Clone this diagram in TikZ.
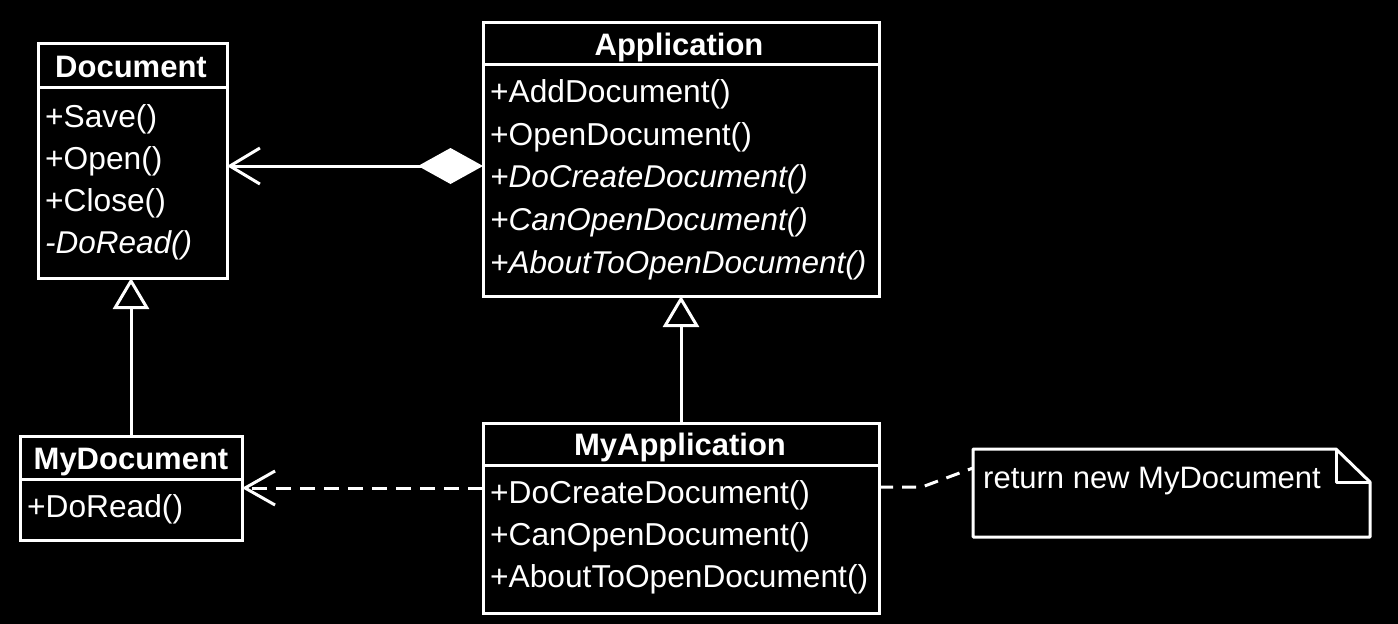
\documentclass[tikz,border=0pt]{standalone}
\usepackage{fontspec}
\setmainfont{Liberation Sans}
\usetikzlibrary{arrows.meta,calc}
\begin{document}
\begin{tikzpicture}[x=1pt,y=-1pt,
  every node/.style={text=white,font=\fontsize{31.7}{37}\selectfont},
  cls/.style={draw=white,line width=3pt,rectangle,anchor=north west,inner sep=0pt,outer sep=0pt},
  mem/.style={anchor=base west,inner sep=0pt},
  imem/.style={anchor=base west,inner sep=0pt,font=\fontsize{31.5}{37}\selectfont\itshape},
  ttl/.style={anchor=base,inner sep=0pt,font=\fontsize{31}{37}\selectfont\bfseries},
  notetext/.style={anchor=base west,inner sep=0pt,font=\fontsize{31}{37}\selectfont},
  conn/.style={draw=white,line width=3pt},
  sep/.style={draw=white,line width=3pt},
  dep/.style={draw=white,line width=3pt,dash pattern=on 15pt off 9pt}]
\fill[black] (0,0) rectangle (1398,624);
% Document
\node[cls,minimum width=189pt,minimum height=235pt] (doc) at (38,43) {};
\draw[sep] ([yshift=-44pt]doc.north west) -- ([yshift=-44pt]doc.north east);
\node[ttl] (doct) at (131,77) {Document};
\node[mem] (docm1) at (45,127) {+Save()};
\node[mem] (docm2) at (45,169) {+Open()};
\node[mem] (docm3) at (45,211) {+Close()};
\node[imem] (docm4) at (45,253) {-DoRead()};
% Application
\node[cls,minimum width=396pt,minimum height=274pt] (app) at (483,22) {};
\draw[sep] ([yshift=-42pt]app.north west) -- ([yshift=-42pt]app.north east);
\node[ttl] (appt) at (679,55) {Application};
\node[mem] (appm1) at (490,102) {+AddDocument()};
\node[mem] (appm2) at (490,145) {+OpenDocument()};
\node[imem] (appm3) at (490,187) {+DoCreateDocument()};
\node[imem] (appm4) at (490,230) {+CanOpenDocument()};
\node[imem] (appm5) at (490,273) {+AboutToOpenDocument()};
% MyDocument
\node[cls,minimum width=222pt,minimum height=104pt] (mydoc) at (20,436) {};
\draw[sep] ([yshift=-43pt]mydoc.north west) -- ([yshift=-43pt]mydoc.north east);
\node[ttl] (mydoct) at (131,469) {MyDocument};
\node[mem] (mydocm1) at (27,517) {+DoRead()};
% MyApplication
\node[cls,minimum width=396pt,minimum height=190pt] (myapp) at (483,423) {};
\draw[sep] ([yshift=-42pt]myapp.north west) -- ([yshift=-42pt]myapp.north east);
\node[ttl] (myappt) at (680,455) {MyApplication};
\node[mem] (myappm1) at (490,503) {+DoCreateDocument()};
\node[mem] (myappm2) at (490,545) {+CanOpenDocument()};
\node[mem] (myappm3) at (490,587) {+AboutToOpenDocument()};
% Note
\node[inner sep=0pt,outer sep=0pt,minimum width=397pt,minimum height=88pt,anchor=north west] (note) at (973,449) {};
\draw[conn,line join=round] (note.north west) -- ([xshift=-34pt]note.north east) -- ([yshift=-33pt]note.north east) -- (note.south east) -- (note.south west) -- cycle;
\draw[conn,line join=round] ([xshift=-34pt]note.north east) -- ++(0,33) -- ([yshift=-33pt]note.north east);
\node[notetext] (notet) at (983,488) {return new MyDocument};
% Connectors
\draw[conn,{Diamond[length=65pt,width=36pt,fill=white]}-{Straight Barb[length=30pt,width=36pt]}] ([yshift=-7pt]app.west) -- ([yshift=-7pt]app.west -| doc.east);
\draw[conn,-{Triangle[length=31pt,width=36pt,fill=black]}] (mydoc.north) -- (mydoc.north |- doc.south);
\draw[conn,-{Triangle[length=31pt,width=36pt,fill=black]}] (myapp.north) -- (app.south);
\draw[dep,-{Straight Barb[length=30pt,width=34pt]}] (myapp.west |- mydoc.east) -- (mydoc.east);
\coordinate (bend) at (922,487);
\draw[conn,dash pattern=on 14pt off 9pt] ([yshift=31pt]myapp.east) -- (bend) -- ([yshift=25pt]note.west);
\end{tikzpicture}
\end{document}
